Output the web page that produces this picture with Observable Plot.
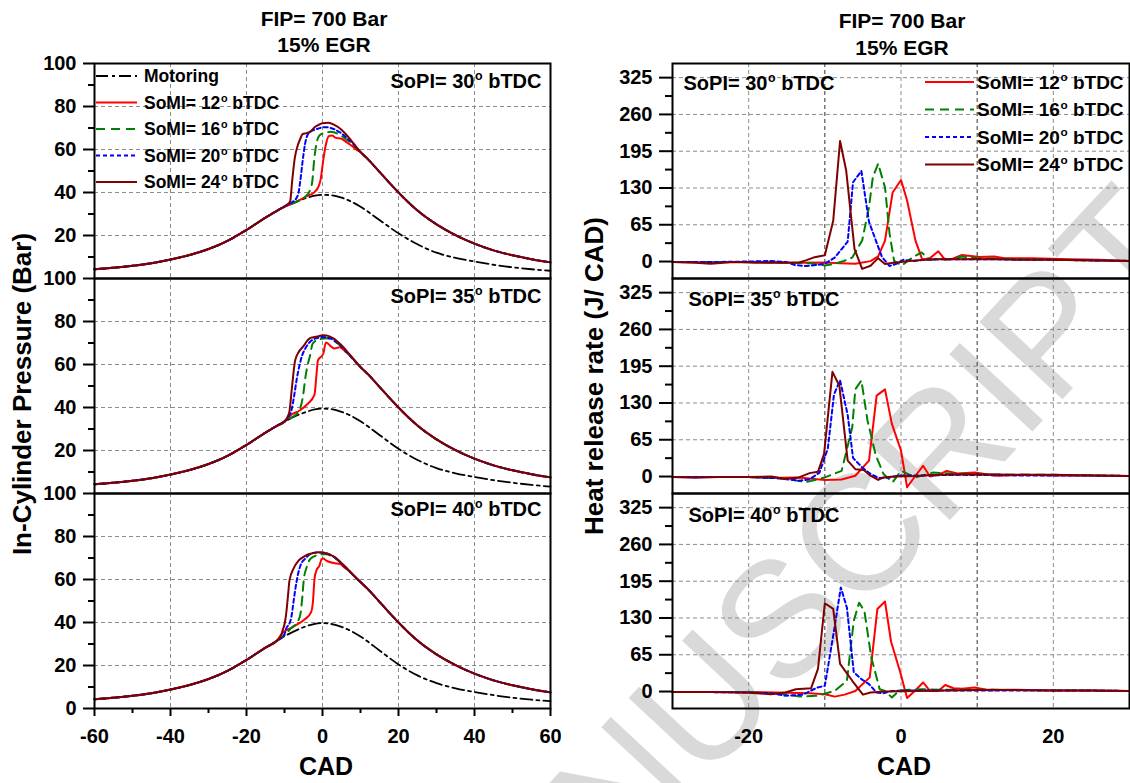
<!DOCTYPE html>
<html>
<head>
<meta charset="utf-8">
<script src="https://cdn.jsdelivr.net/npm/d3@7"></script>
<script src="https://cdn.jsdelivr.net/npm/@observablehq/plot@0.6"></script>
<style>
  body { margin: 0; background: #fff; }
  #root { position: relative; width: 1130px; height: 783px; overflow: hidden; font-family: "Liberation Sans", Arial, sans-serif; }
</style>
</head>
<body>
<div id="root"></div>
<script>
// ---------------- DATA ----------------
const columnTitle1 = "FIP= 700 Bar";
const columnTitle2 = "15% EGR";
const xTitle = "CAD";
const leftYTitle = "In-Cylinder Pressure (Bar)";
const rightYTitle = "Heat release rate (J/ CAD)";
const panelLabels = ["SoPI= 30^o bTDC", "SoPI= 35^o bTDC", "SoPI= 40^o bTDC"];
const motoringLabel = "Motoring";
const seriesLabels = ["SoMI= 12^o bTDC", "SoMI= 16^o bTDC", "SoMI= 20^o bTDC", "SoMI= 24^o bTDC"];
const seriesColors = ["#ff0000", "#008000", "#0000ff", "#800000"];
const seriesDash = [undefined, "9,6", "4,3", undefined];
const motoringDash = "12,4,3,4";

const leftYTicks = [0, 20, 40, 60, 80, 100];
const leftYMinor = [10, 30, 50, 70, 90];
const leftXTicks = [-60, -40, -20, 0, 20, 40, 60];
const leftXMinor = [-50, -30, -10, 10, 30, 50];
const leftGridX = [-40, -20, 0, 20, 40];
const leftGridY = [20, 40, 60, 80];
const rightYTicks = [0, 65, 130, 195, 260, 325];
const rightYMinor = [32.5, 97.5, 162.5, 227.5, 292.5];
const rightXTicks = [-20, 0, 20];
const rightGridX = [-20, 0, 20];
const rightDarkGridX = [-10, 10];
const rightGridY = [65, 130, 195, 260, 325];

// Motoring pressure [CAD, bar]
const motoring30 = [[-60,4.3],[-55,5.0],[-50,5.9],[-45,7.1],[-40,8.8],[-35,10.9],[-30,13.7],[-25,17.5],[-20,22.6],[-15,28.3],[-10,33.3],[-5,37],[-2,38.5],[0,38.9],[2,38.8],[5,37.6],[10,33.4],[15,27.2],[20,21],[25,15.9],[30,12],[35,9.6],[40,7.9],[45,6.4],[50,5.2],[55,4.3],[60,3.6]];
const motoring35 = [[-60,4.3],[-55,5.0],[-50,5.9],[-45,7.1],[-40,8.8],[-35,10.9],[-30,13.7],[-25,17.5],[-20,22.6],[-15,28.3],[-10,33.5],[-5,37.5],[-2,39.1],[0,39.5],[2,39.3],[5,38],[10,33.6],[15,27.2],[20,20.8],[25,15.6],[30,11.8],[35,9.4],[40,7.7],[45,6.2],[50,5],[55,4],[60,3.2]];
const motoring40 = [[-60,4.3],[-55,5.0],[-50,5.9],[-45,7.1],[-40,8.8],[-35,10.9],[-30,13.7],[-25,17.5],[-20,22.6],[-15,28.3],[-10,33.6],[-5,37.8],[-2,39.4],[0,39.7],[2,39.4],[5,38],[10,33.5],[15,27],[20,20.5],[25,15.4],[30,11.8],[35,9.4],[40,7.7],[45,6.2],[50,5],[55,4.1],[60,3.4]];

// Fired pressure: shared compression and expansion parts [CAD, bar]
const firedCompression = [[-60,4.3],[-55,5.0],[-50,5.9],[-45,7.1],[-40,8.8],[-35,10.9],[-30,13.7],[-25,17.5],[-20,22.6],[-15,28.3],[-12,31.5]];
const firedExpansion = [[10,58.8],[12,55.4],[15,49.6],[17.5,44.7],[20,40],[22.5,35.6],[25,31.6],[30,25.2],[35,20.2],[40,16.2],[45,13.1],[50,10.8],[55,9.0],[60,7.5]];

// Combustion part of the pressure curves, SoPI 30
const p30_12 = [[-10,33.3],[-7,35.6],[-6,36.5],[-4,38.4],[-2.1,40.2],[-1,43],[-0.5,46],[0.2,55],[0.8,61.5],[1.7,66.3],[2.5,66.5],[3.5,65.4],[5,65],[6,63.8],[7.5,62],[9,59.8]];
const p30_16 = [[-10,33.4],[-6,36.5],[-4,39],[-3.3,41],[-2.7,45],[-2.2,55],[-1.6,62.6],[-1,66],[-0.2,67.3],[1,67.8],[2,68.2],[3,68],[4,67.3],[5,66.4],[6,65],[8,62.5]];
const p30_20 = [[-10,33.5],[-8,35.5],[-7,37],[-6.3,40],[-5.8,46],[-5.2,55],[-4.6,62.5],[-4,66.5],[-3,68.5],[-2,69.2],[-1,69.8],[0,70.3],[1,70.4],[2,70.1],[3,69.5],[4,68.6],[5,67.5],[6,66],[8,62.7]];
const p30_24 = [[-10,33.6],[-9,34.8],[-8.5,36],[-8,45],[-7.3,56],[-6.5,62],[-6,64.3],[-5.2,67.2],[-4.2,67.6],[-3,68.6],[-2,70.5],[-1,71.5],[0,72.2],[1.5,72.4],[3,71.6],[5,69.2],[7,65.4],[8,63.2]];
// SoPI 35
const p35_12 = [[-10,33.3],[-8.5,36.3],[-6,38.6],[-4,41.5],[-2.1,46],[-1.6,55],[-1.2,61.9],[0.2,65],[0.9,70.2],[2,68.8],[3.1,67.5],[4.5,68],[6,66],[7,64.6],[8,62.8]];
const p35_16 = [[-10,33.4],[-8,35.5],[-6.3,38],[-5.5,42],[-5,47],[-4.5,54],[-4,59],[-3.3,64],[-2.6,69.6],[-1.5,71.3],[0,72],[1,72.2],[2,71.9],[3,71],[4,69.8],[5,68.3],[6,66.5],[8,62.5]];
const p35_20 = [[-10,33.5],[-8.8,36],[-8.2,38.5],[-7.5,45],[-6.8,53],[-6,60],[-5.4,64],[-4.5,67.5],[-3,71],[-2,72],[-1,72.5],[0,72.8],[1,72.6],[2,72.2],[3,71.2],[4,70],[5,68.5],[6,66.6],[8,62.6]];
const p35_24 = [[-10,33.6],[-9.1,36],[-8.7,38.2],[-8,50],[-7.2,61.9],[-6.3,65.7],[-5,68.5],[-3.8,71.5],[-3,72.5],[-2,72.8],[-1,73.2],[0,73.6],[1,73.5],[2,73],[3,72],[4,70.6],[5,69],[6,67],[8,62.8]];
// SoPI 40
const p40_12 = [[-10.5,35.2],[-8.2,37.5],[-6,39.8],[-4.5,41.7],[-3,44.8],[-2.5,50],[-2.1,60.3],[-1.6,64.2],[-0.8,66.5],[-0.2,69.6],[0.2,69.8],[1,68.8],[2.1,68],[3.2,67.6],[4.5,67.3],[5.8,65.5],[6.9,64.2],[8,62.3]];
const p40_16 = [[-10,34],[-8.2,37.5],[-6.5,40.5],[-5.8,44],[-5.3,52],[-4.9,60.3],[-4.2,65.5],[-3.5,68.8],[-2.5,70.5],[-1.6,71.2],[0,71.8],[1,71.7],[2,71.2],[3,70.3],[4,69],[5,67.5],[6,65.8],[8,62.2]];
const p40_20 = [[-10,34.5],[-9.6,37],[-8.6,40],[-8.2,42.5],[-7.6,50],[-7.2,55],[-6.5,62],[-5.8,66.5],[-4.5,69.8],[-3,72],[-1.5,72.6],[0,72.5],[1,72.1],[2,71.5],[3,70.5],[4,69.2],[5,67.5],[6,65.8],[8,62.2]];
const p40_24 = [[-11,33.5],[-10.5,36.3],[-9.9,40],[-9.5,45],[-9,54],[-8.7,59.5],[-7.5,65.5],[-6.3,68.8],[-5,70.5],[-4,71.5],[-2.5,72.3],[-1.2,72.7],[0,72.6],[1,72.2],[2,71.6],[3,70.6],[4,69.3],[5,67.6],[6,65.9],[8,62.2]];

// Heat release rate [CAD, J/CAD], SoPI 30
const h30_12 = [[-30,-1],[-26,-1.5],[-22,-1],[-18,-1],[-14,-2],[-10,-1.6],[-8,-3],[-6,-4],[-4,0.7],[-3,9],[-2.1,37],[-1.1,122],[0,144],[0.8,108],[1.9,37],[2.8,3],[3.8,6],[4.9,18],[5.8,3],[6.8,5],[8,11.5],[10.3,8],[12.2,9],[13.6,6],[17.3,6],[22,4],[26,3],[30,1]];
const h30_16 = [[-30,-1],[-25,-1],[-20,-1],[-15,-2],[-12,-3],[-10,-7],[-8.7,-4],[-7.5,1],[-6.4,7],[-5.1,37],[-4.2,96],[-3.7,149],[-3,173],[-2.1,131],[-1.5,49],[-0.9,1],[0.1,-7],[1.5,7],[2.7,16],[3.8,3],[5,5],[6.5,4],[8,9],[10,6],[13,5],[17,4],[22,3],[26,2],[30,1]];
const h30_20 = [[-30,-1],[-25,-1],[-20,0],[-17,1],[-15,-1],[-14,-6],[-12.5,-8],[-11,-6],[-10,-4],[-8.7,7],[-7,35],[-6.3,140],[-5.2,160],[-4.2,70],[-3.3,37],[-2.5,8],[-1.5,-8],[-0.6,-4],[0.3,3],[1.7,1],[3,3],[5,4],[8,4],[12,4],[16,3],[20,3],[25,2],[30,1]];
const h30_24 = [[-30,-1],[-27,-2],[-25,-4],[-22,-1],[-19,-2],[-16,-2],[-13.4,-1.6],[-12.5,2],[-11.5,7],[-10,11],[-8.9,72],[-8,213],[-7.2,161],[-6.1,22],[-5.1,-13],[-4,-7.5],[-3,6],[-2.1,-4.5],[-1,-2],[0,-1],[1,1],[2,2],[3,3],[5,4],[7,4],[10,4],[13,4],[16,3],[20,3],[25,2],[30,1]];
// SoPI 35
const h35_12 = [[-30,-1],[-24,-1],[-20,-1],[-16,-2],[-13.4,-1.6],[-10,-6],[-7.8,-5.4],[-6,1.4],[-4.2,28],[-3.2,143],[-2.1,154],[-1.2,93],[0,46],[0.8,-19],[1.9,1.4],[2.9,19],[3.8,0],[4.9,3],[6,10],[7.4,5.3],[9.7,7],[12.5,1.4],[16,3],[20,2],[25,2],[30,1]];
const h35_16 = [[-30,-1],[-20,-1],[-15,-4],[-12.5,-10],[-10,-1.6],[-7.8,10],[-6.4,87],[-6,154],[-5.2,170],[-4.4,99],[-3.3,37],[-2.3,4.5],[-1.1,-10],[0,10],[1.9,-1.6],[4.2,7],[7,5],[10,4],[15,3],[20,3],[25,2],[30,1]];
const h35_20 = [[-30,-1],[-20,-1],[-16,-3],[-13.4,-7.5],[-12,-5],[-10.7,7],[-9.6,50],[-8.8,145],[-8,170],[-7,109],[-6.3,33],[-5.1,16],[-4,4.5],[-2.9,-2.8],[-1.5,-1.6],[0,2],[3,2],[8,3],[15,2],[22,2],[30,1]];
const h35_24 = [[-30,-1],[-27,-2],[-24,-1],[-20,-1],[-17,0],[-15.3,-4.5],[-13.4,-1.6],[-12,6],[-10.9,8.5],[-10.1,40],[-9,185],[-8.1,161],[-7,28],[-6,13],[-4.9,11.5],[-4,1.4],[-3,-6],[-2.3,-1.6],[-1,0],[2,1],[5,3],[10,4],[15,3],[20,3],[25,2],[30,1]];
// SoPI 40
const h40_12 = [[-30,-1],[-20,-1],[-15,-2],[-12,-3],[-10,-4.7],[-8.7,-9],[-7.4,-5.5],[-6,1],[-4.1,25],[-3.1,146],[-2.1,159],[-1.3,88],[-0.1,34],[0.8,-11.6],[1.8,1],[2.9,16],[3.8,1],[4.9,1],[5.8,11.6],[6.9,5.8],[8,5],[9.7,7],[11.5,2.4],[15,3],[20,2],[25,2],[30,1]];
const h40_16 = [[-30,-1],[-20,-1],[-15,-5],[-13.3,-9],[-11,-7.6],[-8.7,1],[-7.1,19],[-6.2,125],[-5.5,157],[-4.8,142],[-3.9,60],[-2.8,4],[-2.1,1],[-1.2,-10.5],[-0.2,2],[2.8,4],[6,3],[12,3],[20,2],[30,1]];
const h40_20 = [[-30,-1],[-25,-1],[-20,-1.8],[-17,-3],[-15.2,-7.6],[-12.9,-5.5],[-11,7],[-10,10],[-8.8,107],[-7.9,184],[-7.1,148],[-6.2,34],[-5.2,22],[-4.2,13],[-3.2,-1.8],[-2.3,-3],[-1.2,1],[2,2],[8,2],[15,2],[22,2],[30,1]];
const h40_24 = [[-30,-1],[-25,-1],[-20,-2],[-17.1,-4.7],[-15.2,-1.8],[-13.8,4],[-11.8,6],[-10.9,40],[-10,156],[-8.9,146],[-8,49],[-6.4,19],[-5,-5.5],[-4,-1.7],[-2,0],[2,1],[6,2],[12,3],[20,2],[25,2],[30,1]];

const watermarkText = "ACCEPTED MANUSCRIPT";

// ---------------- ASSEMBLY ----------------
const motoring = [motoring30, motoring35, motoring40];
const firedMid = [[p30_12, p30_16, p30_20, p30_24], [p35_12, p35_16, p35_20, p35_24], [p40_12, p40_16, p40_20, p40_24]];
const fired = firedMid.map(row => row.map(mid => firedCompression.concat(mid, firedExpansion)));
const hrr = [[h30_12, h30_16, h30_20, h30_24], [h35_12, h35_16, h35_20, h35_24], [h40_12, h40_16, h40_20, h40_24]];

const FONT = "'Liberation Sans', Arial, Helvetica, sans-serif";
const root = document.getElementById("root");
const NS = "http://www.w3.org/2000/svg";

// watermark (behind)
const wm = d3.create("svg").attr("width", 1130).attr("height", 783)
  .style("position", "absolute").style("left", "0px").style("top", "0px");
wm.append("text").attr("transform", "translate(1197,255) rotate(-47)")
  .attr("text-anchor", "end").attr("font-family", FONT).attr("font-size", 165)
  .attr("fill", "#d9d9d9").text(watermarkText);
root.appendChild(wm.node());

const gridStyle = {stroke: "#8c8c8c", strokeOpacity: 1, strokeWidth: 1, strokeDasharray: "4,3"};
const darkGridStyle = {stroke: "#333", strokeOpacity: 1, strokeWidth: 1, strokeDasharray: "4,3"};
const PANEL_TOP = 63, PANEL_H = 215, MT = 14, MB = 75;
const xy = {x: d => d[0], y: d => d[1]};
const tickText = {fontSize: 20, fontWeight: "bold", label: null};

function place(svg, left, top) {
  svg.style.position = "absolute";
  svg.style.left = left + "px";
  svg.style.top = top + "px";
  root.appendChild(svg);
}

const leftDx = [-9, -9, -9], leftDy = [10, 10, 8];
const rightDx = [11, 16, 16], rightDy = [12, 13, 14];

for (let i = 0; i < 3; i++) {
  const top = PANEL_TOP + PANEL_H * i;
  const bottom = i === 2;
  const mb = bottom ? MB : 0;

  // ---- pressure panel ----
  const pm = [
    Plot.gridX(leftGridX, gridStyle),
    Plot.gridY(leftGridY, gridStyle),
    Plot.line(motoring[i], {...xy, stroke: "black", strokeWidth: 1.8, strokeDasharray: motoringDash, curve: "monotone-x"}),
    ...fired[i].map((s, k) => Plot.line(s, {...xy, stroke: seriesColors[k], strokeWidth: 2, strokeDasharray: seriesDash[k], curve: "monotone-x"})),
    Plot.frame({stroke: "black", strokeWidth: 2}),
    Plot.axisY(bottom ? leftYTicks : leftYTicks.slice(1), {anchor: "left", tickSize: 11, tickPadding: 7, strokeWidth: 2, ...tickText}),
    Plot.axisY(leftYMinor, {anchor: "left", tickSize: 6, strokeWidth: 2, fill: "none", label: null}),
    Plot.text([panelLabels[i]], {text: d => d, frameAnchor: "top-right", textAnchor: "end", lineAnchor: "top", dx: leftDx[i], dy: leftDy[i], fontSize: 20, fontWeight: "bold", fill: "black"})
  ];
  if (bottom) {
    pm.push(Plot.axisX(leftXTicks, {anchor: "bottom", tickSize: 8, tickPadding: 12, strokeWidth: 2, tickFormat: d => String(d), ...tickText}));
    pm.push(Plot.axisX(leftXMinor, {anchor: "bottom", tickSize: 5, strokeWidth: 2, fill: "none", label: null}));
  }
  const pPlot = Plot.plot({
    width: 565, height: MT + PANEL_H + mb,
    marginLeft: 94, marginRight: 15, marginTop: MT, marginBottom: mb,
    x: bottom ? {domain: [-60, 60]} : {domain: [-60, 60], axis: null},
    y: {domain: [0, 100]},
    style: {background: "transparent", overflow: "visible", fontFamily: FONT, color: "black"},
    marks: pm
  });
  place(pPlot, 0, top - MT);

  // ---- heat release panel ----
  const hm = [
    Plot.gridX(rightGridX, gridStyle),
    Plot.gridX(rightDarkGridX, darkGridStyle),
    Plot.gridY(rightGridY, gridStyle),
    ...hrr[i].map((s, k) => Plot.line(s, {...xy, stroke: seriesColors[k], strokeWidth: 2, strokeDasharray: seriesDash[k]})),
    Plot.frame({stroke: "black", strokeWidth: 2}),
    Plot.axisY(rightYTicks, {anchor: "left", tickSize: 13, tickPadding: 7, strokeWidth: 2, ...tickText}),
    Plot.axisY(rightYMinor, {anchor: "left", tickSize: 7, strokeWidth: 2, fill: "none", label: null}),
    Plot.text([panelLabels[i]], {text: d => d, frameAnchor: "top-left", textAnchor: "start", lineAnchor: "top", dx: rightDx[i], dy: rightDy[i], fontSize: 20, fontWeight: "bold", fill: "black"})
  ];
  if (bottom) {
    hm.push(Plot.axisX(rightXTicks, {anchor: "bottom", tickSize: 0, tickPadding: 20, tickFormat: d => String(d), ...tickText}));
  }
  const hPlot = Plot.plot({
    width: 565, height: MT + PANEL_H + mb,
    marginLeft: 107, marginRight: 1, marginTop: MT, marginBottom: mb,
    x: bottom ? {domain: [-30, 30]} : {domain: [-30, 30], axis: null},
    y: {domain: [-30, 350]},
    style: {background: "transparent", overflow: "visible", fontFamily: FONT, color: "black"},
    marks: hm
  });
  place(hPlot, 565, top - MT);
}

// ---------------- overlay: titles and legends ----------------
const ov = d3.create("svg").attr("width", 1130).attr("height", 783)
  .style("position", "absolute").style("left", "0px").style("top", "0px")
  .style("pointer-events", "none").attr("font-family", FONT).attr("font-weight", "bold");

function addText(g, x, y, str, size, anchor, transform) {
  const t = g.append("text").attr("x", x).attr("y", y).attr("font-size", size)
    .attr("text-anchor", anchor || "start").attr("fill", "black");
  if (transform) t.attr("transform", transform);
  const parts = str.split("^o");
  if (parts.length === 1) { t.text(str); return t; }
  t.append("tspan").text(parts[0]);
  t.append("tspan").text("o").attr("font-size", size * 0.62).attr("dy", -size * 0.4).attr("dx", size * 0.03);
  t.append("tspan").text(parts[1]).attr("dy", size * 0.4);
  return t;
}

addText(ov, 324, 26, columnTitle1, 21, "middle");
addText(ov, 324, 52, columnTitle2, 21, "middle");
addText(ov, 902, 28, columnTitle1, 21, "middle");
addText(ov, 902, 55, columnTitle2, 21, "middle");
addText(ov, 326, 775, xTitle, 25, "middle");
addText(ov, 904, 775, xTitle, 25, "middle");
addText(ov, 0, 0, leftYTitle, 26, "middle", "translate(31,394) rotate(-90)");
addText(ov, 0, 0, rightYTitle, 26, "middle", "translate(603,376) rotate(-90)");

// left legend
const legL = ov.append("g");
const leftRows = [{label: motoringLabel, color: "black", dash: motoringDash}]
  .concat(seriesLabels.map((l, k) => ({label: l, color: seriesColors[k], dash: seriesDash[k]})));
leftRows.forEach((r, k) => {
  const cy = 76 + 26.5 * k;
  legL.append("line").attr("x1", 96).attr("x2", 137).attr("y1", cy).attr("y2", cy)
    .attr("stroke", r.color).attr("stroke-width", 2).attr("stroke-dasharray", r.dash || null);
  addText(legL, 144, cy + 6.3, r.label, 17.5, "start");
});
// right legend
const legR = ov.append("g");
seriesLabels.forEach((l, k) => {
  const cy = 82 + 27.5 * k;
  legR.append("line").attr("x1", 925).attr("x2", 974).attr("y1", cy).attr("y2", cy)
    .attr("stroke", seriesColors[k]).attr("stroke-width", 2).attr("stroke-dasharray", seriesDash[k] || null);
  addText(legR, 977, cy + 6.8, l, 19, "start");
});
root.appendChild(ov.node());

// superscript "o" inside Plot text marks
root.querySelectorAll("text").forEach(t => {
  if (t.children.length) return;
  const s = t.textContent;
  if (!s.includes("^o")) return;
  const fs = parseFloat(getComputedStyle(t).fontSize) || 20;
  const [a, b] = s.split("^o");
  t.textContent = "";
  const t1 = document.createElementNS(NS, "tspan"); t1.textContent = a; t.appendChild(t1);
  const t2 = document.createElementNS(NS, "tspan"); t2.textContent = "o";
  t2.setAttribute("font-size", fs * 0.62); t2.setAttribute("dy", -fs * 0.4); t2.setAttribute("dx", fs * 0.03); t.appendChild(t2);
  const t3 = document.createElementNS(NS, "tspan"); t3.textContent = b; t3.setAttribute("dy", fs * 0.4); t.appendChild(t3);
});
</script>
</body>
</html>
